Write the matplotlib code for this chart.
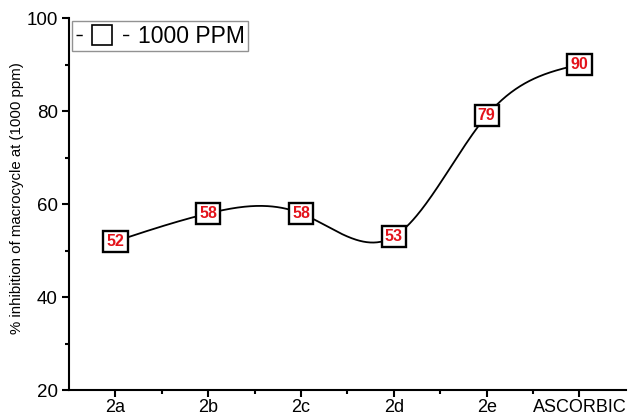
import matplotlib.pyplot as plt
import numpy as np
from matplotlib.lines import Line2D

# data
compounds = ['2a', '2b', '2c', '2d', '2e', 'ASCORBIC']
inhibition = [52, 58, 58, 53, 79, 90]
series_name = '1000 PPM'

plt.rcParams['font.family'] = ['Liberation Sans', 'DejaVu Sans']


def natural_spline(x, y, n=400):
    # plain natural cubic spline, like Origin's "spline" connect
    x = np.asarray(x, float)
    y = np.asarray(y, float)
    k = len(x)
    h = np.diff(x)
    A = np.zeros((k, k))
    b = np.zeros(k)
    A[0, 0] = A[-1, -1] = 1
    for i in range(1, k - 1):
        A[i, i - 1] = h[i - 1]
        A[i, i] = 2 * (h[i - 1] + h[i])
        A[i, i + 1] = h[i]
        b[i] = 6 * ((y[i + 1] - y[i]) / h[i] - (y[i] - y[i - 1]) / h[i - 1])
    M = np.linalg.solve(A, b)
    xs = np.linspace(x[0], x[-1], n)
    idx = np.clip(np.searchsorted(x, xs) - 1, 0, k - 2)
    x0, x1 = x[idx], x[idx + 1]
    hh = x1 - x0
    t0 = x1 - xs
    t1 = xs - x0
    ys = (M[idx] * t0**3 + M[idx + 1] * t1**3) / (6 * hh) \
        + (y[idx] / hh - M[idx] * hh / 6) * t0 \
        + (y[idx + 1] / hh - M[idx + 1] * hh / 6) * t1
    return xs, ys


fig = plt.figure(figsize=(6.3, 4.16), dpi=100)
ax = fig.add_axes([0.1095, 0.062, 0.884, 0.8947])

xpos = np.arange(len(compounds))
xs, ys = natural_spline(xpos, inhibition)
ax.plot(xs, ys, color='black', lw=1.3, zorder=2)

for xi, yi in zip(xpos, inhibition):
    ax.text(xi, yi, str(yi), ha='center', va='center', color='#e3131b',
            fontsize=11.5, fontweight='bold', zorder=3,
            bbox=dict(boxstyle='square,pad=0.2', fc='white', ec='black', lw=1.7))

ax.set_xlim(-0.5, 5.5)
ax.set_ylim(20, 100)
ax.set_xticks(xpos)
ax.set_xticklabels(compounds)
ax.set_xticks(xpos[:-1] + 0.5, minor=True)
ax.set_yticks([20, 40, 60, 80, 100])
ax.set_yticks([30, 50, 70, 90], minor=True)

ax.spines['top'].set_visible(False)
ax.spines['right'].set_visible(False)
ax.spines['left'].set_linewidth(1.5)
ax.spines['bottom'].set_linewidth(1.5)
ax.tick_params(axis='both', which='major', direction='out', length=5, width=1.5)
ax.tick_params(axis='y', which='major', labelsize=13.5, pad=3)
ax.tick_params(axis='x', which='major', labelsize=13, pad=1.5)
ax.tick_params(axis='both', which='minor', direction='out', length=3, width=1.5)

ax.set_ylabel('% inhibition of macrocycle at (1000 ppm)', fontsize=10.8)
ax.yaxis.set_label_coords(-0.081, 0.515)

# Origin style legend symbol: short dash, open square, short dash
handle = Line2D([], [], color='black', lw=1.0, linestyle=(0, (4.5, 29, 4.5, 100)),
                marker='s', markersize=14, markerfacecolor='white',
                markeredgecolor='black', markeredgewidth=1.2)
leg = ax.legend([handle], [series_name], loc='upper left', fontsize=16.5,
                frameon=True, fancybox=False, edgecolor='#777777', handlelength=2.3,
                borderpad=0.15, handletextpad=0.4, borderaxespad=0.15)
leg.get_frame().set_linewidth(1.0)

fig.savefig('out.png', dpi=100)
